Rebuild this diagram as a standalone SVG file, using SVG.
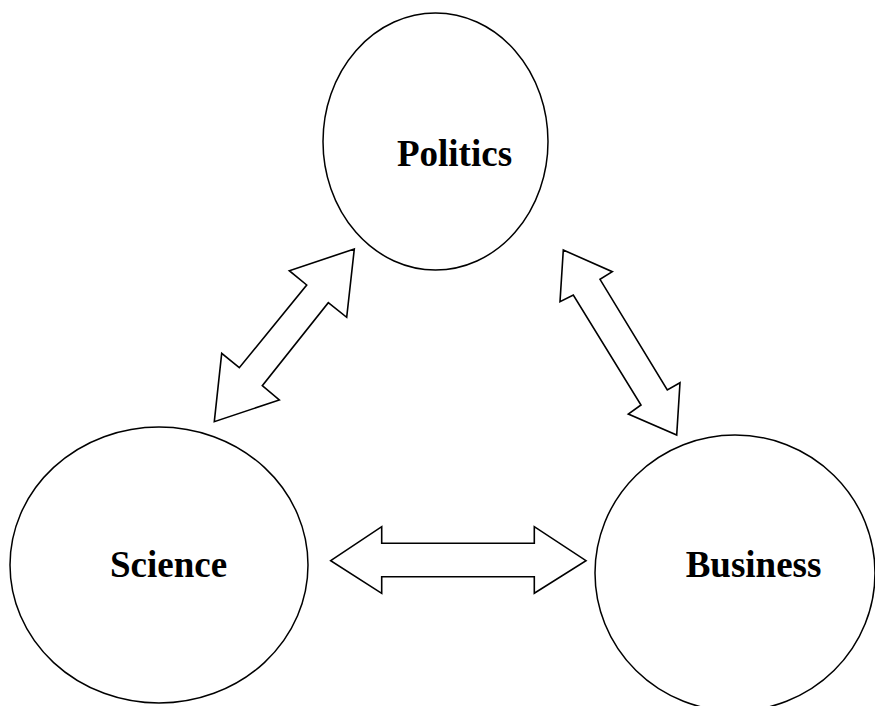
<svg xmlns="http://www.w3.org/2000/svg" width="875" height="706" viewBox="0 0 875 706">
<style>
.node{fill:#fff;stroke:#000;stroke-width:1.5}
.lbl{font-family:"Liberation Serif","Times New Roman",serif;font-weight:bold;font-size:37px;fill:#000;text-anchor:middle}
.arr{fill:#fff;stroke:#000;stroke-width:1.6;stroke-linejoin:miter}
</style>
<rect width="875" height="706" fill="#fff"/>
<g id="politics">
<ellipse class="node" cx="435.5" cy="141.5" rx="112.5" ry="128.5"/>
<text class="lbl" x="454.5" y="166">Politics</text>
</g>
<g id="science">
<ellipse class="node" cx="159" cy="565" rx="149" ry="138"/>
<text class="lbl" x="168.5" y="577">Science</text>
</g>
<g id="business">
<ellipse class="node" cx="735" cy="573" rx="140" ry="138"/>
<text class="lbl" x="753.5" y="577">Business</text>
</g>
<g id="connectors">
<polygon class="arr" points="354.3,249 289.3,270.7 306.7,285 239.3,367.7 221.7,353.3 214.3,421.7 279.3,400 262.3,385.7 328.3,302.7 346.7,317.3"/>
<polygon class="arr" points="563.3,250 612.3,271.7 600,279.3 667.3,390 680,382.7 676.7,435 628.3,414 641,405 573.3,295 560,301.7"/>
<polygon class="arr" points="330.7,560.7 381.7,526.7 381.7,543.3 534.3,543.3 534.3,526.7 586,560.7 534.3,593.3 534.3,576.7 381.7,576.7 381.7,593.3"/>
</g>
</svg>
